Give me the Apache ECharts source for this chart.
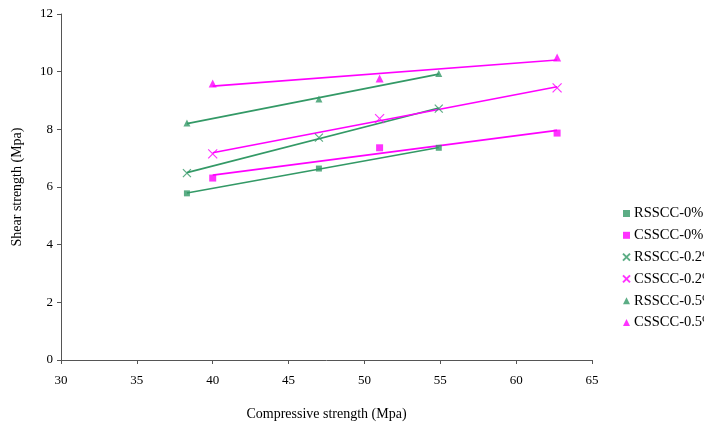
<!DOCTYPE html>
<html>
<head>
<meta charset="utf-8">
<script src="https://cdn.jsdelivr.net/npm/echarts@6/dist/echarts.min.js"></script>
<style>
  html, body { margin: 0; padding: 0; background: #fff; }
  #chart { width: 704px; height: 427px; }
</style>
</head>
<body>
<div id="chart"></div>
<script>
// Compressive strength (x) and shear strength (y) for each mix
const seriesNames = ['RSSCC-0%', 'CSSCC-0%', 'RSSCC-0.2%', 'CSSCC-0.2%', 'RSSCC-0.5%', 'CSSCC-0.5%'];
const xRS = [38.3, 47.0, 54.9];
const xCS = [40.0, 51.0, 62.7];
const rs0  = [5.78, 6.64, 7.36];
const cs0  = [6.31, 7.36, 7.87];
const rs02 = [6.48, 7.71, 8.72];
const cs02 = [7.15, 8.37, 9.44];
const rs05 = [8.22, 9.05, 9.94];
const cs05 = [9.59, 9.76, 10.49];
const xTicks = [30, 35, 40, 45, 50, 55, 60, 65];
const yTicks = [0, 2, 4, 6, 8, 10, 12];

const GREEN = '#339966';
const PINK = '#ff00ff';
const FONT = '"Liberation Serif", "Times New Roman", serif';
const CROSS = 'path://M0,0L10,10M10,0L0,10';

const groups = [
  { name: seriesNames[0], x: xRS, y: rs0,  color: GREEN, symbol: 'rect', size: 6 },
  { name: seriesNames[1], x: xCS, y: cs0,  color: PINK,  symbol: 'rect', size: 7 },
  { name: seriesNames[2], x: xRS, y: rs02, color: GREEN, symbol: CROSS, size: 8 },
  { name: seriesNames[3], x: xCS, y: cs02, color: PINK,  symbol: CROSS, size: 9 },
  { name: seriesNames[4], x: xRS, y: rs05, color: GREEN, symbol: 'triangle', size: 7 },
  { name: seriesNames[5], x: xCS, y: cs05, color: PINK,  symbol: 'triangle', size: 8 }
];

// Least-squares linear trendline across the range of x values
function trend(xs, ys) {
  const n = xs.length;
  const mx = xs.reduce((a, b) => a + b, 0) / n;
  const my = ys.reduce((a, b) => a + b, 0) / n;
  let sxy = 0, sxx = 0;
  for (let i = 0; i < n; i++) {
    sxy += (xs[i] - mx) * (ys[i] - my);
    sxx += (xs[i] - mx) * (xs[i] - mx);
  }
  const b = sxy / sxx, a = my - b * mx;
  const x0 = Math.min(...xs), x1 = Math.max(...xs);
  return [[x0, a + b * x0], [x1, a + b * x1]];
}

const series = [];
groups.forEach(g => {
  series.push({
    type: 'line',
    data: trend(g.x, g.y),
    showSymbol: false,
    silent: true,
    lineStyle: { color: g.color, width: 1.6 },
    z: 1
  });
});
groups.forEach(g => {
  const isCross = g.symbol === CROSS;
  series.push({
    name: g.name,
    type: 'scatter',
    data: g.x.map((v, i) => [v, g.y[i]]),
    symbol: g.symbol,
    symbolSize: g.size,
    itemStyle: isCross
      ? { color: 'transparent', borderColor: g.color, borderWidth: 1.2 }
      : { color: g.color },
    z: 3
  });
});

const chart = echarts.init(document.getElementById('chart'), null, { renderer: 'canvas' });
chart.setOption({
  animation: false,
  backgroundColor: '#fff',
  grid: { left: 61, right: 112, top: 14, bottom: 67, containLabel: false },
  xAxis: {
    type: 'value',
    min: xTicks[0], max: xTicks[xTicks.length - 1], interval: 5,
    name: 'Compressive strength (Mpa)',
    nameLocation: 'middle', nameGap: 47,
    nameTextStyle: { fontFamily: FONT, fontSize: 14, color: '#000' },
    axisLine: { lineStyle: { color: '#555', width: 1 } },
    axisTick: { show: true, length: 4, lineStyle: { color: '#555' } },
    axisLabel: { fontFamily: FONT, fontSize: 13, color: '#000', margin: 14 },
    splitLine: { show: false }
  },
  yAxis: {
    type: 'value',
    min: yTicks[0], max: yTicks[yTicks.length - 1], interval: 2,
    name: 'Shear strength (Mpa)',
    nameLocation: 'middle', nameGap: 37,
    nameTextStyle: { fontFamily: FONT, fontSize: 14, color: '#000' },
    axisLine: { show: true, lineStyle: { color: '#555', width: 1 } },
    axisTick: { show: true, length: 4, lineStyle: { color: '#555' } },
    axisLabel: { fontFamily: FONT, fontSize: 13, color: '#000', margin: 8 },
    splitLine: { show: false }
  },
  legend: {
    orient: 'vertical',
    left: 617, top: 201,
    itemWidth: 7, itemHeight: 7,
    itemGap: 6.8,
    textStyle: { fontFamily: FONT, fontSize: 14.5, color: '#000', padding: [0, 0, 0, -1] },
    data: seriesNames
  },
  series: series
});
</script>
</body>
</html>
